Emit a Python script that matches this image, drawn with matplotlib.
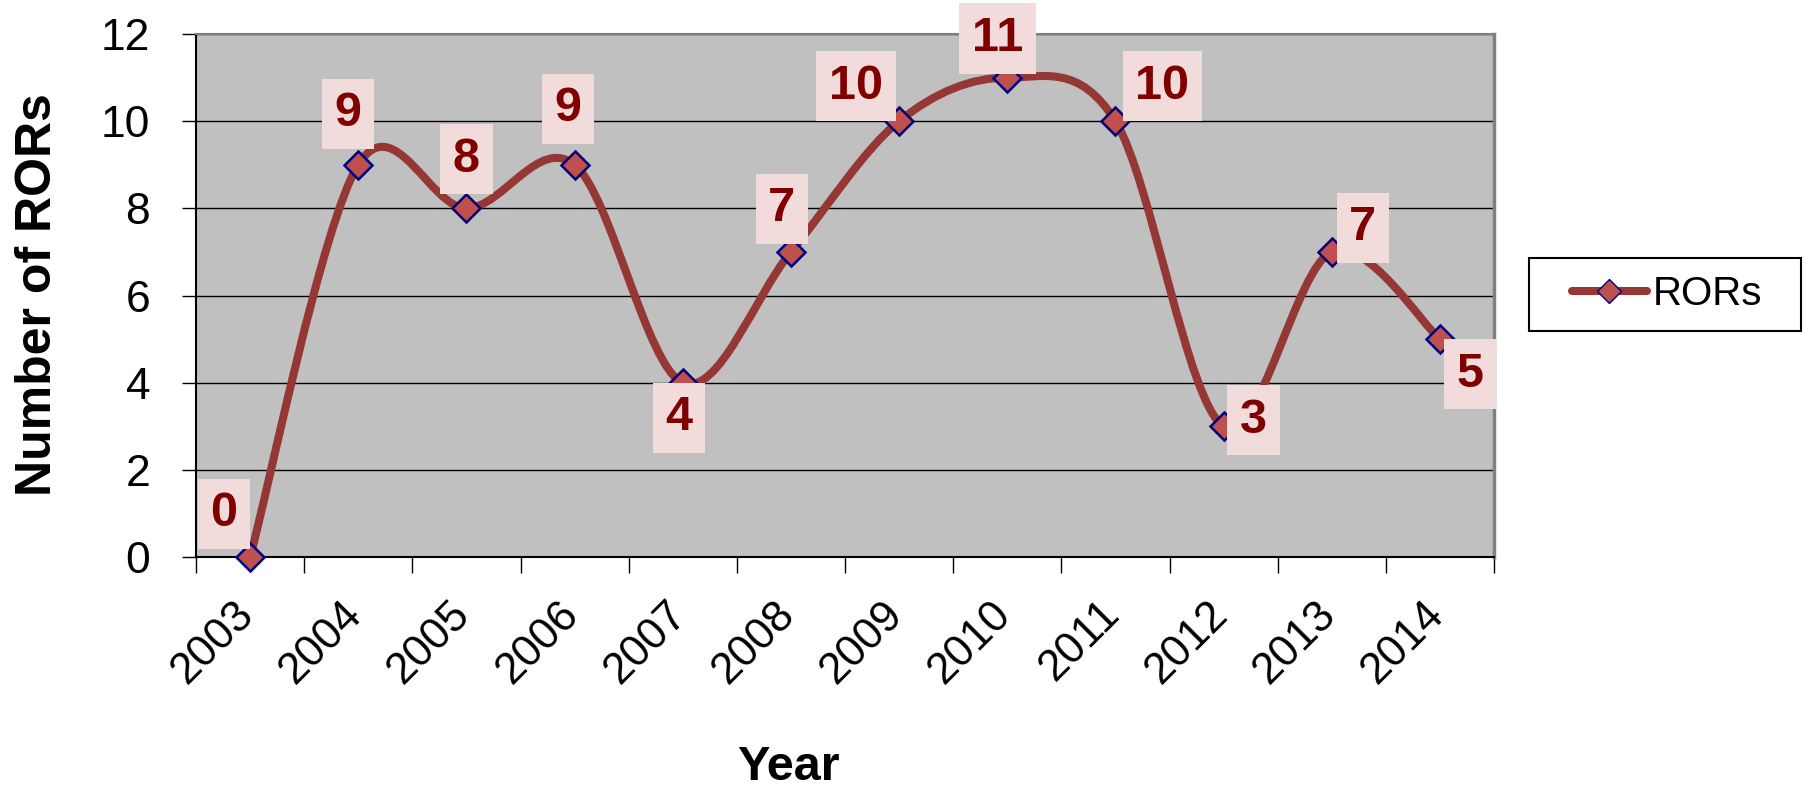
import matplotlib
matplotlib.use("Agg")
import matplotlib.pyplot as plt
from matplotlib.path import Path
from matplotlib.patches import PathPatch, Rectangle
from matplotlib.lines import Line2D
import matplotlib.transforms as mtransforms
import numpy as np

plt.rcParams['font.family'] = ['Liberation Sans', 'DejaVu Sans']

# data
years = ['2003', '2004', '2005', '2006', '2007', '2008',
         '2009', '2010', '2011', '2012', '2013', '2014']
rors = [0, 9, 8, 9, 4, 7, 10, 11, 10, 3, 7, 5]

# where each data label box sits relative to its point (pixels, right / down)
label_offsets = [(-26, -40), (-10, -48), (0, -46), (-7, -53), (-4, 38), (-9, -40),
                 (-43, -32), (-10, -36), (47, -32), (30, -3), (31, -21), (30, 38)]

LINE_COLOR = '#953735'
MARKER_FACE = '#C0504D'
MARKER_EDGE = '#00007F'
LABEL_COLOR = '#800000'
LABEL_BG = '#F2DCDB'


def smooth_path(xs, ys):
    # Excel-like smoothed line: cubic bezier segments through every point
    pts = np.column_stack([xs, ys]).astype(float)
    n = len(pts)
    verts = [pts[0]]
    codes = [Path.MOVETO]
    for i in range(n - 1):
        p0 = pts[max(i - 1, 0)]
        p1 = pts[i]
        p2 = pts[i + 1]
        p3 = pts[min(i + 2, n - 1)]
        c1 = p1 + (p2 - p0) / 6.0
        c2 = p2 - (p3 - p1) / 6.0
        verts += [c1, c2, p2]
        codes += [Path.CURVE4] * 3
    return Path(verts, codes)


fig = plt.figure(figsize=(18.09, 7.90), dpi=100)
ax = fig.add_axes([196 / 1809, 1 - 557 / 790, 1298 / 1809, 523 / 790])
ax.set_facecolor('#C0C0C0')

x = np.arange(len(years))

patch = PathPatch(smooth_path(x, rors), fill=False, edgecolor=LINE_COLOR,
                  lw=5.8, capstyle='round', joinstyle='round', zorder=3)
ax.add_patch(patch)
ax.plot(x, rors, ls='none', marker='D', ms=14, mfc=MARKER_FACE,
        mec=MARKER_EDGE, mew=1.8, zorder=4, clip_on=False)

for xi, v, (dx, dy) in zip(x, rors, label_offsets):
    ax.annotate(str(v), xy=(xi, v), xytext=(dx * 0.72, -(dy - 3) * 0.72),
                textcoords='offset points', ha='center', va='center',
                fontsize=35, fontweight='bold', color=LABEL_COLOR,
                bbox=dict(boxstyle='square,pad=0.26', fc=LABEL_BG, ec='none'),
                zorder=5, annotation_clip=False)

ax.set_xlim(-0.5, len(years) - 0.5)
ax.set_ylim(0, 12)
ax.set_yticks(range(0, 13, 2))
ax.grid(axis='y', color='black', lw=1.0)
ax.set_axisbelow(True)

ax.set_xticks(x)
ax.set_xticklabels(years, rotation=45, ha='right', va='top', fontsize=31.5)
ax.set_xticks(np.arange(-0.5, len(years)), minor=True)
ax.tick_params(axis='x', which='major', length=0, pad=26)
ax.tick_params(axis='x', which='minor', length=11.5, width=1.0, direction='out')
ax.tick_params(axis='y', length=10, width=1.0, direction='out', pad=23, labelsize=32)

shift = mtransforms.ScaledTranslation(12 / 100, 0, fig.dpi_scale_trans)
for lab in ax.get_xticklabels():
    lab.set_transform(lab.get_transform() + shift)

for side in ['left', 'bottom']:
    ax.spines[side].set_color('black')
    ax.spines[side].set_linewidth(1.5)
ax.spines['top'].set_color('#808080')
ax.spines['top'].set_linewidth(1.5)
ax.spines['right'].set_color('#808080')
ax.spines['right'].set_linewidth(2.5)

fig.text(38 / 1809, 1 - 295 / 790, 'Number of RORs', rotation=90,
         ha='center', va='center', fontsize=36, fontweight='bold')
fig.text(788 / 1809, 1 - 768 / 790, 'Year', ha='center', va='center',
         fontsize=35, fontweight='bold')

# legend box on the right
fig.patches.append(Rectangle((1529 / 1809, 1 - 331 / 790), 272 / 1809, 73 / 790,
                             transform=fig.transFigure, fill=True, fc='white',
                             ec='black', lw=1.5))
handle = Line2D([], [], color=LINE_COLOR, lw=5.8, solid_capstyle='round',
                marker='D', ms=12, mfc=MARKER_FACE, mec=MARKER_EDGE, mew=1.0)
fig.legend([handle], ['RORs'], loc='center', bbox_to_anchor=(1667 / 1809, 1 - 294 / 790),
           frameon=False, fontsize=29, handlelength=1.86, handletextpad=0.15,
           borderpad=0, borderaxespad=0)

fig.savefig('out.png', dpi=100)
